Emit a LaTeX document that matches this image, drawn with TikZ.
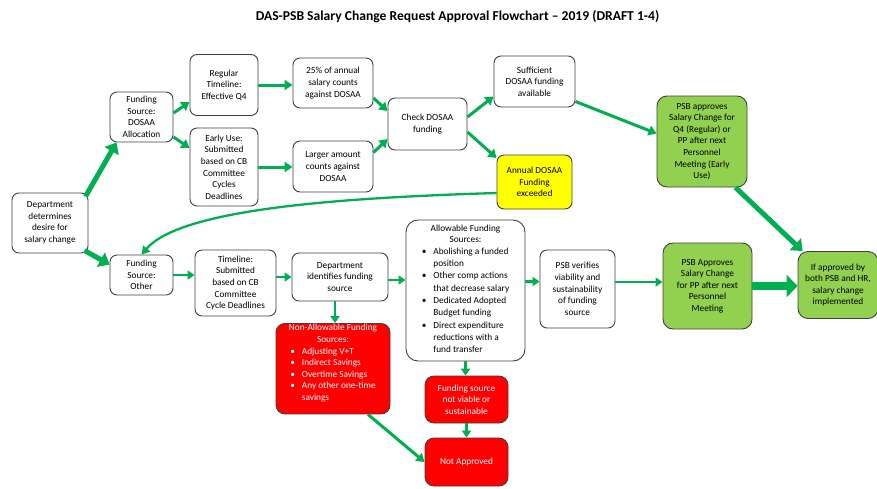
\documentclass[tikz,border=0pt]{standalone}
\usepackage{fontspec}
\setmainfont{Carlito}
\usetikzlibrary{arrows.meta,calc}
\definecolor{arrg}{HTML}{00B050}
\definecolor{boxg}{HTML}{92D050}
\definecolor{boxr}{HTML}{FF0000}
\definecolor{boxy}{HTML}{FFFF00}
\tikzset{
  box/.style={draw=black!75, line width=0.9pt, rounded corners=7pt, fill=white,
    align=center, inner sep=1pt, font=\fontsize{9.3}{11.6}\selectfont},
  gbox/.style={box, fill=boxg, rounded corners=10pt},
  rbox/.style={box, fill=boxr, text=white, rounded corners=9pt},
  ybox/.style={box, fill=boxy},
  midconn/.style={draw=arrg, line width=3pt, -{Triangle[length=8pt,width=10pt]}},
  thinconn/.style={draw=arrg, line width=2.3pt, -{Triangle[length=7pt,width=9pt]}},
  bigconn/.style={draw=arrg, line width=5pt, -{Triangle[length=10pt,width=16pt]}},
  hugeconn/.style={draw=arrg, line width=8pt, -{Triangle[length=11pt,width=22pt]}},
  curveconn/.style={draw=arrg, line width=2.3pt, -{Triangle[length=8pt,width=9pt]}},
}
\begin{document}
\begin{tikzpicture}[x=1pt,y=-1pt]
\useasboundingbox (0,0) rectangle (877,488);
\fill[white] (0,0) rectangle (877,488);

\node[font=\fontsize{13.6}{15}\selectfont\bfseries] (title) at (457.5,17)
  {DAS-PSB Salary Change Request Approval Flowchart -- 2019 (DRAFT 1-4)};

% top row
\node[box, minimum width=76, minimum height=60] (dept) at (50,223)
  {Department\\determines\\desire for\\salary change};
\node[box, minimum width=63, minimum height=50] (dosaa) at (141.5,117)
  {Funding\\Source:\\DOSAA\\Allocation};
\node[box, minimum width=68, minimum height=61] (reg) at (224,85)
  {Regular\\Timeline:\\Effective Q4};
\node[box, minimum width=68, minimum height=78] (early) at (224,167)
  {Early Use:\\Submitted\\based on CB\\Committee\\Cycles\\Deadlines};
\node[box, minimum width=80, minimum height=50] (pct) at (333,83)
  {25\% of annual\\salary counts\\against DOSAA};
\node[box, minimum width=80, minimum height=51] (larger) at (333,166.5)
  {Larger amount\\counts against\\DOSAA};
\node[box, minimum width=79, minimum height=52] (check) at (427.5,124)
  {Check DOSAA\\funding};
\node[box, minimum width=81, minimum height=51] (suff) at (534.5,81.5)
  {Sufficient\\DOSAA funding\\available};
\node[ybox, minimum width=75, minimum height=54] (annual) at (534.5,182)
  {Annual DOSAA\\Funding\\exceeded};
\node[gbox, minimum width=90, minimum height=91] (psbq) at (702,141.5)
  {PSB approves\\Salary Change for\\Q4 (Regular) or\\PP after next\\Personnel\\Meeting (Early\\Use)};

% bottom row
\node[box, minimum width=63, minimum height=40] (other) at (141.5,275)
  {Funding\\Source:\\Other};
\node[box, minimum width=81, minimum height=66] (timeline) at (235.5,283)
  {Timeline:\\Submitted\\based on CB\\Committee\\Cycle Deadlines};
\node[box, minimum width=96, minimum height=48] (ident) at (340,277)
  {Department\\identifies funding\\source};
\node[box, minimum width=119, minimum height=141, rounded corners=12pt] (allow) at (465.5,290.5)
  {Allowable Funding\\Sources:\\
   \renewcommand{\arraystretch}{1.06}%
   \begin{tabular}[t]{@{}l@{\hspace{7pt}}l@{}}
   \textbullet & Abolishing a funded\\ & position\\
   \textbullet & Other comp actions\\ & that decrease salary\\
   \textbullet & Dedicated Adopted\\ & Budget funding\\
   \textbullet & Direct expenditure\\ & reductions with a\\ & fund transfer
   \end{tabular}};
\node[box, minimum width=75, minimum height=78] (verify) at (577.5,289)
  {PSB verifies\\viability and\\sustainability\\of funding\\source};
\node[gbox, minimum width=89, minimum height=86] (psbpp) at (707.5,286)
  {PSB Approves\\Salary Change\\for PP after next\\Personnel\\Meeting};
\node[gbox, minimum width=80, minimum height=67] (ifappr) at (838,285)
  {If approved by\\both PSB and HR,\\salary change\\implemented};
\node[rbox, minimum width=114, minimum height=90, anchor=north] (nonallow) at (333,323)
  {Non-Allowable Funding\\Sources:\\
   \begin{tabular}[t]{@{}l@{\hspace{7pt}}l@{}}
   \textbullet & Adjusting V+T\\
   \textbullet & Indirect Savings\\
   \textbullet & Overtime Savings\\
   \textbullet & Any other one-time\\ & savings\\[9pt]
   \end{tabular}};
\node[rbox, minimum width=83, minimum height=47] (notviable) at (466.5,399.5)
  {Funding source\\not viable or\\sustainable};
\node[rbox, minimum width=83, minimum height=48] (notappr) at (466.5,462)
  {Not Approved};

% connectors
\draw[bigconn] ([shift={(-3,4)}]dept.north east) -- ([shift={(7,0)}]dosaa.south west);
\draw[bigconn] ([shift={(-4,-3)}]dept.south east) -- ([shift={(0,10)}]other.north west);
\draw[midconn] ([shift={(0,-4)}]dosaa.east) -- ([shift={(0,17)}]reg.west);
\draw[midconn] ([shift={(0,20)}]dosaa.east) -- ([shift={(0,-19)}]early.west);
\coordinate (c5) at ($(reg.east)+(0,0)$);
\draw[midconn] (c5) -- (c5 -| pct.west);
\coordinate (c6) at (early.east);
\draw[midconn] (c6) -- (c6 -| larger.west);
\draw[midconn] ([shift={(0,15)}]pct.east) -- ([shift={(0,-13)}]check.west);
\draw[midconn] ([shift={(0,-14)}]larger.east) -- ([shift={(0,15)}]check.west);
\draw[midconn] ([shift={(0,-7)}]check.east) -- ([shift={(0,15)}]suff.west);
\draw[midconn] ([shift={(0,8)}]check.east) -- ([shift={(0,-24)}]annual.west);
\draw[midconn] ([shift={(0,20)}]suff.east) -- ([shift={(0,-8)}]psbq.west);
\draw[curveconn] ([shift={(0,11)}]annual.west) .. controls (330,198) and (180,210) .. (other.north);
\draw[bigconn] ([shift={(-12,0)}]psbq.south east) -- ([shift={(5,0)}]ifappr.north west);

\coordinate (c14) at (other.east);
\draw[thinconn] (c14) -- (c14 -| timeline.west);
\coordinate (c15) at (ident.west -| timeline.east);
\draw[thinconn] (c15) -- (ident.west);
\coordinate (c16) at ($(ident.east)+(0,3)$);
\draw[thinconn] (c16) -- (c16 -| allow.west);
\coordinate (c17) at ($(allow.east)+(0,-9)$);
\draw[thinconn] (c17) -- (c17 -| verify.west);
\coordinate (c18) at ($(verify.east)+(0,-7)$);
\draw[thinconn] (c18) -- (c18 -| psbpp.west);
\coordinate (c19) at (psbpp.east);
\draw[hugeconn] (c19) -- (c19 -| ifappr.west);
\coordinate (c20) at ($(ident.south)+(-5,0)$);
\draw[thinconn] (c20) -- (c20 |- nonallow.north);
\coordinate (c21) at (allow.south);
\draw[thinconn] (c21) -- (c21 |- notviable.north);
\draw[thinconn] (notviable.south) -- (notappr.north);
\draw[midconn] ([shift={(35,0)}]nonallow.south) -- (notappr.west);
\end{tikzpicture}
\end{document}
